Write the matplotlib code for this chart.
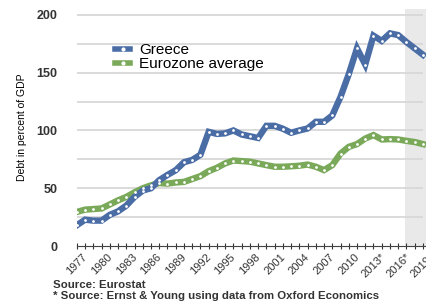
import matplotlib
matplotlib.use("Agg")
import matplotlib.pyplot as plt
from matplotlib.lines import Line2D

plt.rcParams['font.family'] = ['Liberation Sans', 'DejaVu Sans']

years = list(range(1977, 2020))

greece = [18, 22.8, 22, 22, 27, 30, 35, 42.5, 48, 50,
          57, 61.5, 65.6, 72.5, 74.5, 79, 98.8, 97, 97.5, 100,
          96.5, 95, 93.5, 104, 104, 101.5, 98, 100, 101.7, 107.5,
          107.5, 113, 129, 148.7, 171, 157, 182, 177.5, 184, 182.5,
          176.5, 171, 165.5]

eurozone = [29.5, 31.5, 32, 32.5, 36, 39.5, 42.5, 46.5, 50, 52.5,
            54.5, 54, 55, 55.5, 58, 60.5, 64.8, 67.7, 71.5, 74,
            73.5, 73, 71.5, 70, 68.6, 68.6, 69, 69.5, 70.5, 68.6,
            65.7, 70, 80, 85.8, 88.2, 93, 96, 92.2, 92.5, 92.2,
            91, 90, 88.2]

tick_years = list(range(1977, 2020, 3))
tick_labels = [str(y) if y < 2013 else f"{y}*" for y in tick_years]
y_ticks = [0, 50, 100, 150, 200]
grid_levels = [25, 50, 75, 100, 125, 150, 175, 200]
forecast_start = 2016.85

blue = '#4a6da6'
green = '#7aa95a'

fig = plt.figure(figsize=(4.27, 3.03), dpi=100)
ax = fig.add_axes([0.180, 0.188, 0.822, 0.782])
ax.set_xlim(1977, 2019.6)
ax.set_ylim(0, 205)

# forecast area
ax.axvspan(forecast_start, 2020, color='#e9e9e9', zorder=0, lw=0)
ax.hlines(grid_levels, years[0], years[-1], colors='#d8d8d8', lw=1.3, zorder=1)

for values, color in [(eurozone, green), (greece, blue)]:
    ax.plot(years, values, color=color, lw=4.6, solid_joinstyle='miter',
            zorder=3)
    ax.plot(years, values, ls='none', marker='o', ms=2, mfc='white',
            mew=0, zorder=4)

for side in ['top', 'right', 'left']:
    ax.spines[side].set_visible(False)
ax.spines['bottom'].set_color('#444444')
ax.spines['bottom'].set_linewidth(0.8)

ax.set_xticks(years, minor=True)
ax.set_xticks(tick_years)
ax.set_xticklabels(tick_labels, rotation=45, ha='center', fontsize=8,
                   color='#333333')
ax.tick_params(axis='x', which='both', direction='inout', length=4,
               width=0.8, color='#333333', pad=2)
ax.set_yticks(y_ticks)
ax.set_yticklabels([str(v) for v in y_ticks], fontsize=9, fontweight='bold',
                   color='#333333')
ax.tick_params(axis='y', length=0, pad=14)
ax.set_ylabel('Debt in percent of GDP', fontsize=7.5)
ax.yaxis.set_label_coords(-0.142, 0.5)

handles = [Line2D([], [], color=blue, lw=4, marker='o', ms=3, mfc='white',
                  mew=0),
           Line2D([], [], color=green, lw=4, marker='o', ms=3, mfc='white',
                  mew=0)]
fig.legend(handles, ['Greece', 'Eurozone average'], loc='upper left',
           bbox_to_anchor=(115 / 427, 1 - 43 / 303), frameon=False,
           fontsize=11, handlelength=1.0, handletextpad=0.6,
           labelspacing=0.0, borderpad=0, borderaxespad=0)

fig.text(53 / 427, 1 - 285 / 303, 'Source: Eurostat', fontsize=8.2,
         fontweight='bold', color='#333333', va='center')
fig.text(53 / 427, 1 - 296 / 303,
         '* Source: Ernst & Young using data from Oxford Economics',
         fontsize=8.2, fontweight='bold', color='#333333', va='center')

fig.savefig('out.png', dpi=100)
